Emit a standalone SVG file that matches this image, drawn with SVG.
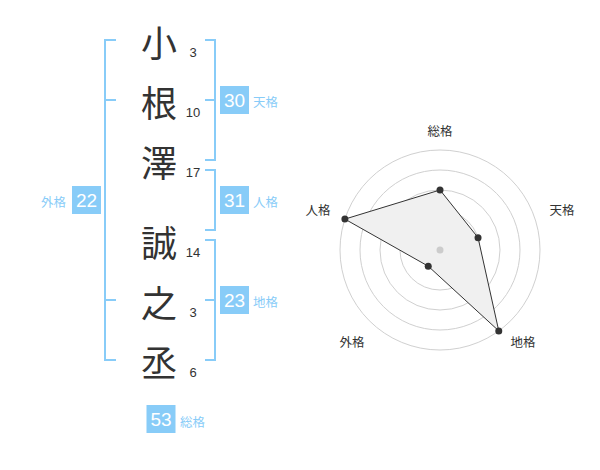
<svg xmlns="http://www.w3.org/2000/svg" width="600" height="470" viewBox="0 0 600 470">
<style>
.ch{font-family:"Noto Sans CJK JP","Noto Sans CJK SC",sans-serif;font-size:36px;fill:#333;text-anchor:middle;dominant-baseline:central}
.num{font-family:"Liberation Sans",Arial,sans-serif;font-size:13px;fill:#333;text-anchor:middle}
.br{fill:none;stroke:#88ccf8;stroke-width:2}
.box{fill:#88ccf8}
.bn{font-family:"Liberation Sans",Arial,sans-serif;font-size:19px;fill:#fff;text-anchor:middle;dominant-baseline:central}
.bl{font-family:"Noto Sans CJK JP","Noto Sans CJK SC",sans-serif;font-size:12.5px;fill:#88ccf8;dominant-baseline:central}
.ring{fill:none;stroke:#d0d0d0;stroke-width:1}
.rl{font-family:"Noto Sans CJK JP","Noto Sans CJK SC",sans-serif;font-size:12.5px;fill:#333;text-anchor:middle;dominant-baseline:central}
.pt{fill:#333}
</style>
<g id="chars">
<g id="c1"><text class="ch" x="159" y="41">小</text><text class="num" x="193" y="57">3</text></g>
<g id="c2"><text class="ch" x="159" y="101">根</text><text class="num" x="193" y="117">10</text></g>
<g id="c3"><text class="ch" x="159" y="161">澤</text><text class="num" x="193" y="177">17</text></g>
<g id="c4"><text class="ch" x="159" y="241">誠</text><text class="num" x="193" y="257">14</text></g>
<g id="c5"><text class="ch" x="159" y="301">之</text><text class="num" x="193" y="317">3</text></g>
<g id="c6"><text class="ch" x="159" y="361">丞</text><text class="num" x="193" y="377">6</text></g>
</g>
<g id="connectors">
<path class="br" d="M116,40H105V360H116M105,100H116M105,300H116"/>
<path class="br" d="M205,40H215V160H205M205,100H215"/>
<path class="br" d="M205,170H215V230H205"/>
<path class="br" d="M205,240H215V360H205M205,300H215"/>
</g>
<g id="tenkaku"><rect class="box" x="220" y="86" width="29" height="28"/><text class="bn" x="234.5" y="100">30</text><text class="bl" x="253" y="101">天格</text></g>
<g id="jinkaku"><rect class="box" x="220" y="186" width="29" height="28"/><text class="bn" x="234.5" y="200">31</text><text class="bl" x="253" y="201">人格</text></g>
<g id="chikaku"><rect class="box" x="220" y="286" width="29" height="28"/><text class="bn" x="234.5" y="300">23</text><text class="bl" x="253" y="301">地格</text></g>
<g id="gaikaku"><rect class="box" x="72" y="186" width="29" height="28"/><text class="bn" x="86.5" y="200">22</text><text class="bl" x="41" y="201">外格</text></g>
<g id="soukaku"><rect class="box" x="146.5" y="405" width="29" height="28"/><text class="bn" x="161" y="419">53</text><text class="bl" x="180" y="421">総格</text></g>
<g id="radar">
<circle class="ring" cx="440" cy="250" r="20"/>
<circle class="ring" cx="440" cy="250" r="40"/>
<circle class="ring" cx="440" cy="250" r="60"/>
<circle class="ring" cx="440" cy="250" r="80"/>
<circle class="ring" cx="440" cy="250" r="100"/>
<polygon points="440,190 478.04,237.64 498.78,330.9 428.24,266.18 344.89,219.1" fill="#f0f0f0" stroke="#333" stroke-width="1"/>
<circle cx="440" cy="250" r="3.5" fill="#ccc"/>
<circle class="pt" cx="440" cy="190" r="3.5"/>
<circle class="pt" cx="478.04" cy="237.64" r="3.5"/>
<circle class="pt" cx="498.78" cy="330.9" r="3.5"/>
<circle class="pt" cx="428.24" cy="266.18" r="3.5"/>
<circle class="pt" cx="344.89" cy="219.1" r="3.5"/>
<text class="rl" x="440" y="130">総格</text>
<text class="rl" x="562" y="209">天格</text>
<text class="rl" x="523" y="341">地格</text>
<text class="rl" x="352" y="341">外格</text>
<text class="rl" x="318" y="209">人格</text>
</g>
</svg>
